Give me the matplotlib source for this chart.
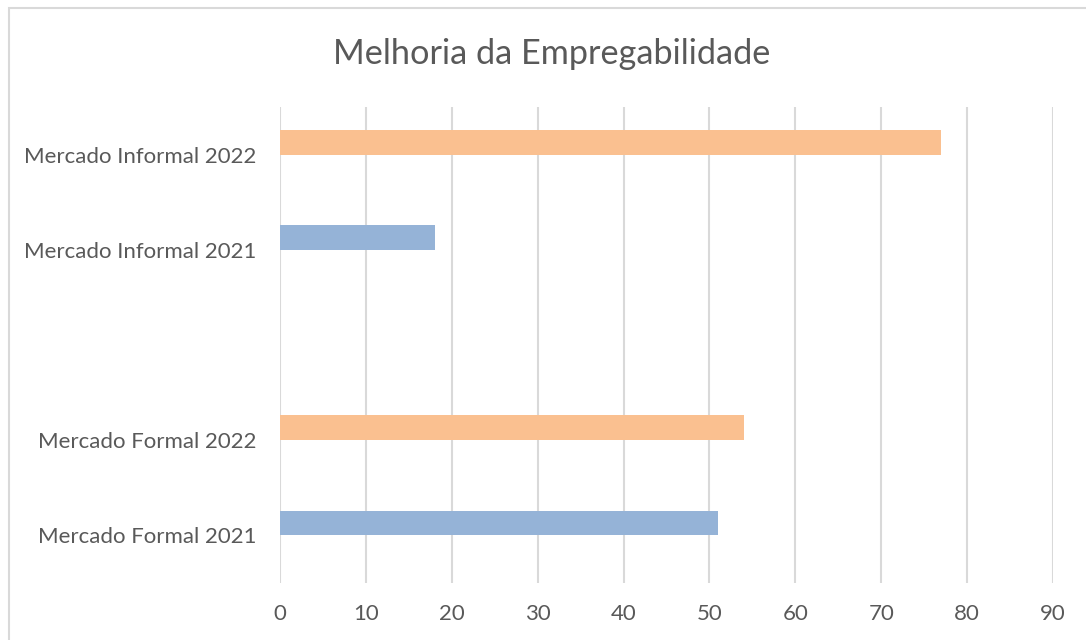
import numpy as np
import matplotlib
matplotlib.use("Agg")
import matplotlib.pyplot as plt
from matplotlib.patches import Rectangle

categories = ["Mercado Formal 2021", "Mercado Formal 2022", "",
              "Mercado Informal 2021", "Mercado Informal 2022"]
values = [51, 54, np.nan, 18, 77]
bar_colors = ["#95B3D7", "#FAC090", "#FFFFFF", "#95B3D7", "#FAC090"]
xticks = [0, 10, 20, 30, 40, 50, 60, 70, 80, 90]
title = "Melhoria da Empregabilidade"

plt.rcParams['font.family'] = ['Lato', 'DejaVu Sans']
text_color = "#595959"
grid_color = "#D9D9D9"

W, H = 1086, 640
fig = plt.figure(figsize=(W / 100, H / 100), dpi=100)
fig.patches.append(Rectangle((9 / W, -0.1), 1.2, 1 - 8 / H + 0.1,
                             transform=fig.transFigure, fill=False,
                             edgecolor=grid_color, linewidth=1.5))

ax = fig.add_axes([280 / W, 1 - 583 / H, (1053 - 280) / W, (583 - 107) / H])
pos = np.arange(len(categories))
ax.barh(pos + 0.13, values, height=0.26, color=bar_colors, zorder=3)
ax.set_xlim(0, 90)
ax.set_ylim(-0.5, 4.5)
ax.set_xticks(xticks)
ax.set_xticklabels([str(t) for t in xticks])
ax.set_yticks(pos)
ax.set_yticklabels(categories)
ax.tick_params(axis='both', length=0, colors=text_color, labelsize=16)
ax.tick_params(axis='x', pad=15)
ax.tick_params(axis='y', pad=17)
ax.grid(axis='x', color=grid_color, linewidth=1.5, zorder=0)
for s in ax.spines.values():
    s.set_visible(False)

fig.text(552 / W, 1 - 54 / H, title, ha='center', va='center',
         fontsize=24.7, color=text_color)

fig.savefig("out.png", dpi=100)
